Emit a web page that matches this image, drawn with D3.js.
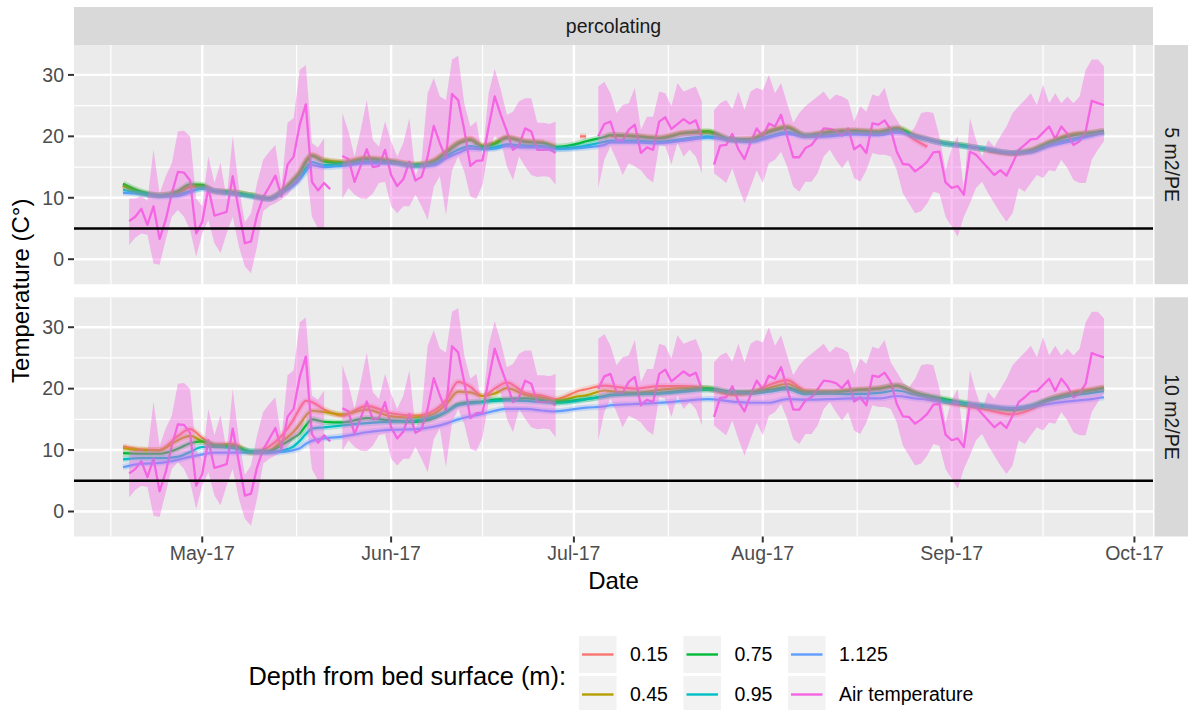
<!DOCTYPE html>
<html><head><meta charset="utf-8">
<script src="https://cdn.jsdelivr.net/npm/d3@7"></script>
<style>
body{margin:0;background:#fff;}
text{font-family:"Liberation Sans",Arial,Helvetica,sans-serif;}
</style>
</head><body>
<svg id="c" width="1188" height="710"></svg>
<script>
// ---------------- DATA ----------------
const startDate = "2017-04-18";           // day index 0
const facetLabels = ["5 m2/PE", "10 m2/PE"];
const stripTop = "percolating";
const depthLevels = ["0.15", "0.45", "0.75", "0.95", "1.125"];
const legendLabels = ["0.15", "0.45", "0.75", "0.95", "1.125", "Air temperature"];
const yTicks = [0, 10, 20, 30];
const yMinor = [5, 15, 25];
const threshold = 5;

// daily air temperature (index = days since startDate)
const airMean = [null,
 6.2,6.9,8.2,5.6,8.6,3.3,6.4,10.7,14.2,14.1,
 12.8,4.2,6.1,11.6,7.1,7.4,7.7,13.5,8.0,2.6,
 2.9,7.2,10.1,11.8,13.6,10.2,15.4,16.7,21.9,25.2,
 12.6,11.2,12.4,11.4,null,16.8,16.3,12.6,15.2,17.9,
 15.0,15.2,17.8,13.7,11.9,13.0,15.9,12.8,13.4,16.7,
 21.7,18.9,16.4,26.9,25.9,21.1,15.2,16.0,16.1,21.5,
 26.5,23.5,20.8,17.8,18.6,21.3,20.8,17.8,17.8,17.9,
 17.3,null,null,null,null,null,null,20.0,22.0,22.4,
 19.4,19.3,21.1,21.9,17.3,18.2,17.8,22.4,23.1,21.2,
 22.0,22.8,22.1,22.6,19.9,null,15.4,18.5,18.6,20.4,
 17.9,16.3,19.0,21.3,19.9,22.1,21.6,23.5,20.0,16.6,
 16.6,18.1,18.6,19.9,21.3,21.2,20.9,20.1,21.3,17.9,
 18.6,17.3,22.1,21.9,22.6,21.1,17.5,15.5,15.4,14.3,
 15.0,15.9,17.4,17.5,12.5,11.6,11.9,10.5,17.5,17.0,
 15.9,14.8,13.7,14.5,13.6,15.6,17.8,18.6,19.5,19.6,
 20.6,21.6,19.6,21.6,20.4,18.6,19.2,20.8,25.8,25.4,25.1];
const airMin = [null,
 2.3,3.5,4.2,4.0,-0.7,-0.9,3.1,6.9,8.0,6.9,
 4.8,0.4,4.2,6.4,2.6,1.0,4.2,6.9,2.1,-1.2,
 -2.3,2.1,7.8,8.6,9.1,9.7,10.5,11.8,12.5,15.6,
 6.9,5.0,5.0,null,null,9.9,11.6,10.5,9.9,9.8,
 10.7,12.4,12.6,8.6,7.5,8.6,8.6,10.5,8.6,6.4,
 11.8,13.5,7.2,14.5,16.7,14.3,10.2,9.8,12.1,17.8,
 20.0,19.2,15.1,12.9,16.7,15.1,13.7,13.4,13.5,13.4,
 12.1,null,null,null,null,null,null,11.6,16.2,18.4,
 16.2,13.7,15.6,15.1,14.5,13.2,12.5,18.6,18.4,15.4,
 18.9,16.7,17.8,16.7,14.0,null,14.0,13.2,12.4,14.8,
 11.8,9.1,11.8,14.5,12.4,15.6,16.2,17.5,15.1,11.8,
 11.0,12.6,12.6,14.0,16.7,17.8,16.2,14.8,16.2,13.2,
 12.6,14.5,17.3,17.0,17.0,16.7,14.5,10.7,9.1,7.5,
 7.8,9.1,11.0,10.7,6.9,5.3,3.7,6.9,9.1,11.6,
 12.6,10.7,9.1,7.5,6.1,7.5,11.6,11.0,12.4,13.7,
 13.2,14.5,14.3,16.2,14.8,12.9,12.4,12.4,16.2,17.8,19.2];
const airMax = [null,
 9.9,9.9,10.3,9.5,17.9,10.7,13.5,15.6,20.8,20.9,
 20.0,9.9,8.6,16.7,12.4,15.7,9.9,20.0,11.8,6.0,
 7.5,12.4,16.2,17.5,18.6,11.8,22.2,23.0,30.8,31.6,
 18.9,18.2,19.7,null,null,23.8,20.8,16.7,21.0,25.9,
 19.4,18.3,22.4,19.2,16.7,18.9,23.0,13.5,16.2,27.0,
 29.5,26.5,25.9,32.5,33.1,25.4,21.6,22.4,16.7,27.0,
 31.0,27.6,23.5,24.0,25.7,26.2,26.2,22.2,22.2,22.0,
 22.4,null,null,null,null,null,null,28.1,28.9,27.0,
 23.8,25.1,25.4,27.9,21.1,23.2,23.2,27.3,27.0,24.9,
 28.7,27.3,27.7,28.1,25.7,null,24.3,25.4,25.9,24.4,
 27.3,24.3,27.3,27.9,27.5,30.0,27.0,28.7,25.4,22.2,
 23.8,24.9,25.7,26.5,27.3,25.9,26.8,26.5,25.9,22.4,
 24.9,24.0,26.8,26.5,27.9,24.3,22.7,21.1,20.2,21.6,
 23.8,24.0,23.8,20.0,14.5,18.1,20.0,11.3,23.0,19.4,
 16.7,19.4,18.3,20.0,21.6,23.8,24.9,25.9,27.0,25.1,
 28.4,25.4,27.0,25.4,26.5,25.4,26.5,30.8,32.5,32.5,31.4];

// bed temperature sample days (days since startDate)
const depthDays = [0,3,6,9,11,13,15,18,21,24, 26,28,29,30,31,33,36,40,44,48,
 51,53,55,57,59,61,63,66,69,71, 75,76,79,80,84,88,92,96,100,103,
 106,109,112,116,120,124,127,130,132,134, 138,142,146,149,152,156,159,161];

// 5 m2/PE
const p5_015 = [11.9,10.8,10.4,10.8,11.7,11.8,11.1,10.9,10.4,9.9, 10.9,12.8,14.0,15.8,16.9,16.1,15.8,16.4,16.0,15.4,
 16.0,17.4,18.9,19.6,18.5,18.9,19.8,19.2,19.0,null, 20.0,20.0,null,20.1,20.0,19.7,20.5,20.6,19.4,19.5,
 20.7,21.4,20.1,20.6,20.9,20.7,21.2,19.4,18.3,null, null,17.6,17.1,17.6,18.9,20.2,20.5,20.8];
const p5_045 = [12.0,10.8,10.4,10.9,11.9,11.9,11.1,10.9,10.4,9.9, 11.0,13.0,14.2,16.0,17.0,16.1,15.8,16.5,16.0,15.4,
 16.1,17.5,19.0,19.6,18.4,18.9,19.9,19.2,19.0,18.4, null,null,19.8,20.2,20.1,19.8,20.6,20.8,19.5,19.6,
 20.9,21.6,20.2,20.8,21.0,20.8,21.4,20.2,19.6,19.1, 18.5,17.8,17.3,17.8,19.1,20.4,20.6,20.9];
const p5_075 = [12.3,11.0,10.4,11.1,12.2,12.1,11.1,10.9,10.4,9.9, 11.0,12.9,14.0,15.8,16.8,15.9,15.6,16.3,15.9,15.3,
 15.9,17.3,18.8,19.4,18.3,18.8,19.7,19.1,18.9,18.3, 18.9,19.2,19.9,20.2,20.0,19.7,20.5,20.8,19.5,19.5,
 20.7,21.4,20.2,20.7,20.9,20.7,21.3,20.0,19.5,19.0, 18.5,17.8,17.3,17.7,19.0,20.2,20.6,20.9];
const p5_095 = [11.3,10.7,10.3,10.5,11.1,11.5,11.1,10.7,10.3,9.8, 10.8,12.2,13.3,14.8,15.8,15.3,15.4,15.9,15.7,15.2,
 15.5,16.7,17.8,18.4,18.1,18.2,18.7,18.5,18.4,18.0, 18.3,18.5,19.1,19.3,19.3,19.1,19.6,20.0,19.4,19.2,
 20.0,20.7,20.0,20.2,20.5,20.4,20.9,20.0,19.5,19.0, 18.4,17.9,17.3,17.5,18.6,19.6,20.2,20.6];
const p5_1125 = [10.8,10.6,10.2,10.3,10.9,11.6,11.1,10.6,10.2,9.8, 10.8,12.0,13.0,14.3,15.3,15.0,15.2,15.6,15.6,15.1,
 15.3,16.4,17.3,18.0,17.9,18.0,18.4,18.2,18.2,17.9, 18.1,18.2,18.6,19.0,19.0,18.9,19.3,19.8,19.3,19.1,
 19.8,20.4,19.9,20.0,20.3,20.2,20.6,20.0,19.5,19.0, 18.4,17.9,17.3,17.4,18.4,19.3,20.1,20.5];

// 10 m2/PE
const p10_015 = [10.6,10.1,10.0,12.3,13.4,12.0,10.9,11.0,9.6,10.6, 12.3,15.0,16.8,18.0,17.8,16.6,15.6,17.2,16.0,15.6,
 16.4,18.1,21.1,20.3,18.8,20.0,21.0,19.3,18.8,18.3, 19.7,19.9,20.5,20.4,20.0,20.4,20.4,20.0,19.0,19.3,
 20.6,21.4,19.7,19.5,19.8,20.0,20.5,19.2,18.5,17.9, 17.2,16.5,15.8,16.6,18.2,19.5,19.9,20.2];
const p10_045 = [10.3,10.0,10.0,11.6,12.3,11.4,10.7,10.8,9.6,9.9, 11.4,13.0,14.2,15.6,16.4,16.2,15.8,16.6,15.5,15.3,
 15.9,17.4,19.5,19.4,18.8,19.2,20.1,19.0,18.5,18.0, 18.8,18.9,19.7,19.6,19.3,19.8,20.1,20.0,19.2,19.4,
 20.1,20.8,19.6,19.5,19.8,20.1,20.5,19.4,18.8,18.3, 17.6,17.0,16.5,17.0,18.3,19.3,19.8,20.2];
const p10_075 = [9.5,9.4,9.4,10.2,11.1,11.4,10.8,10.6,9.8,9.8, 10.8,12.0,12.7,14.0,15.0,14.6,14.5,15.2,14.8,14.6,
 15.2,16.2,17.5,17.8,17.9,18.2,18.3,18.4,18.1,17.8, 18.2,18.3,18.8,19.0,19.2,19.3,19.7,20.1,19.5,19.5,
 19.8,20.2,19.4,19.4,19.7,20.0,20.5,19.4,18.9,18.5, 17.7,17.1,16.6,17.2,18.3,19.2,19.7,20.1];
const p10_095 = [8.5,8.7,8.7,8.9,9.7,10.5,10.5,10.3,9.8,9.6, 9.9,10.6,11.5,12.6,13.5,13.7,14.0,14.4,14.6,14.8,
 15.4,16.2,17.3,17.6,17.8,18.0,18.1,18.0,17.8,17.7, 18.1,18.3,18.7,18.9,19.1,19.2,19.5,19.8,19.4,19.2,
 19.5,19.9,19.1,19.2,19.1,19.3,19.7,19.0,18.6,18.2, 17.5,17.0,16.8,17.2,18.1,18.9,19.3,19.6];
const p10_1125 = [7.2,7.8,7.9,8.4,8.9,9.3,9.6,9.6,9.6,9.6, 9.7,10.0,10.3,11.0,11.5,11.9,12.2,12.9,13.3,13.4,
 13.8,14.3,15.0,15.5,15.9,16.4,16.7,16.7,16.4,16.3, 16.8,16.9,17.1,17.3,17.5,17.7,18.0,18.3,17.9,17.7,
 17.7,18.3,18.2,18.3,18.4,18.4,18.8,18.4,18.2,17.9, 17.6,17.2,16.8,17.0,17.5,18.0,18.3,18.6];

// ---------------- STYLE / LAYOUT ----------------
const colors = ["#F8766D","#B79F00","#00BA38","#00BFC4","#619CFF","#F564E3"];
const PL = 74, PR = 1153;
const panelDefs = [
  {label: facetLabels[0], top: 45, bottom: 284.2, depth: [p5_015,p5_045,p5_075,p5_095,p5_1125]},
  {label: facetLabels[1], top: 297.3, bottom: 536.5, depth: [p10_015,p10_045,p10_075,p10_095,p10_1125]}
];

const svg = d3.select("#c");
const t0 = new Date(startDate + "T00:00:00Z");
const dayDate = d => new Date(t0.getTime() + d * 864e5);
const nDays = airMean.length - 1;
const xpad = nDays * 0.05;
const x = d3.scaleUtc().domain([dayDate(-xpad), dayDate(nDays + xpad)]).range([PL, PR]);

const allVals = [].concat(airMin, airMax, ...panelDefs.flatMap(p => p.depth)).filter(v => v != null);
const ymin = d3.min(allVals), ymax = d3.max(allVals);
const ypad = (ymax - ymin) * 0.05;
const yDom = [ymin - ypad, ymax + ypad];

const majorX = d3.utcMonth.range(dayDate(-xpad), dayDate(nDays + xpad));
const monthsAll = d3.utcMonth.range(d3.utcMonth.floor(dayDate(-xpad)), d3.utcMonth.offset(d3.utcMonth.ceil(dayDate(nDays + xpad)), 1));
const minorX = [];
for (let i = 0; i < monthsAll.length - 1; i++) {
  const m = new Date((monthsAll[i].getTime() + monthsAll[i+1].getTime()) / 2);
  if (m >= x.domain()[0] && m <= x.domain()[1]) minorX.push(m);
}

panelDefs.forEach((p, pi) => {
  const y = d3.scaleLinear().domain(yDom).range([p.bottom, p.top]);
  const g = svg.append("g");
  g.append("rect").attr("x", PL).attr("y", p.top).attr("width", PR - PL).attr("height", p.bottom - p.top).attr("fill", "#EBEBEB");
  g.selectAll(null).data(yMinor).join("line")
    .attr("x1", PL).attr("x2", PR).attr("y1", d => y(d)).attr("y2", d => y(d))
    .attr("stroke", "#fff").attr("stroke-width", 1.2);
  g.selectAll(null).data(minorX).join("line")
    .attr("y1", p.top).attr("y2", p.bottom).attr("x1", d => x(d)).attr("x2", d => x(d))
    .attr("stroke", "#fff").attr("stroke-width", 1.2);
  g.selectAll(null).data(yTicks).join("line")
    .attr("x1", PL).attr("x2", PR).attr("y1", d => y(d)).attr("y2", d => y(d))
    .attr("stroke", "#fff").attr("stroke-width", 2.4);
  g.selectAll(null).data(majorX).join("line")
    .attr("y1", p.top).attr("y2", p.bottom).attr("x1", d => x(d)).attr("x2", d => x(d))
    .attr("stroke", "#fff").attr("stroke-width", 2.4);

  const clipId = "clip" + pi;
  svg.append("clipPath").attr("id", clipId).append("rect")
    .attr("x", PL).attr("y", p.top).attr("width", PR - PL).attr("height", p.bottom - p.top);
  const dg = svg.append("g").attr("clip-path", `url(#${clipId})`);

  const depthLine = d3.line().defined(d => d.v != null)
    .x(d => x(dayDate(d.d))).y(d => y(d.v)).curve(d3.curveMonotoneX);
  const depthData = p.depth.map(arr => depthDays.map((d, i) => ({d, v: arr[i] == null ? null : arr[i]})));
  const airData = airMean.map((v, i) => ({d: i, v, lo: airMin[i], hi: airMax[i]}));

  // line layer
  depthData.forEach((dd, k) => {
    dg.append("path").datum(dd).attr("d", depthLine)
      .attr("fill", "none").attr("stroke", colors[k]).attr("stroke-width", 2.2);
  });
  const airLine = d3.line().defined(d => d.v != null).x(d => x(dayDate(d.d))).y(d => y(d.v));
  dg.append("path").datum(airData).attr("d", airLine)
    .attr("fill", "none").attr("stroke", colors[5]).attr("stroke-width", 2.3).attr("stroke-linejoin", "round");

  // ribbon layer
  depthData.forEach((dd, k) => {
    dg.append("path").datum(dd).attr("d", depthLine)
      .attr("fill", "none").attr("stroke", colors[k]).attr("stroke-width", 6)
      .attr("stroke-opacity", 0.25).attr("stroke-linecap", "butt");
  });
  const airArea = d3.area().defined(d => d.lo != null && d.hi != null)
    .x(d => x(dayDate(d.d))).y0(d => y(d.lo)).y1(d => y(d.hi));
  dg.append("path").datum(airData).attr("d", airArea)
    .attr("fill", colors[5]).attr("fill-opacity", 0.4);

  dg.append("line").attr("x1", PL).attr("x2", PR).attr("y1", y(threshold)).attr("y2", y(threshold))
    .attr("stroke", "#000").attr("stroke-width", 2.4);

  const ya = svg.append("g");
  ya.selectAll(null).data(yTicks).join("line")
    .attr("x1", PL - 6).attr("x2", PL).attr("y1", d => y(d)).attr("y2", d => y(d))
    .attr("stroke", "#333333").attr("stroke-width", 2);
  ya.selectAll(null).data(yTicks).join("text")
    .attr("x", PL - 10).attr("y", d => y(d)).attr("dy", "0.35em")
    .attr("text-anchor", "end").attr("fill", "#4D4D4D").attr("font-size", 19.5)
    .text(d => d);

  svg.append("rect").attr("x", PR + 1.5).attr("y", p.top).attr("width", 1188 - PR).attr("height", p.bottom - p.top).attr("fill", "#D9D9D9");
  const cy = (p.top + p.bottom) / 2, cx = PR + 1.5 + (1188 - PR - 1.5) / 2 + 1;
  svg.append("text").attr("transform", `translate(${cx},${cy}) rotate(90)`)
    .attr("text-anchor", "middle").attr("dy", "0.35em")
    .attr("fill", "#1A1A1A").attr("font-size", 19.5).text(p.label);

  if (pi === panelDefs.length - 1) {
    const xa = svg.append("g");
    xa.selectAll(null).data(majorX).join("line")
      .attr("x1", d => x(d)).attr("x2", d => x(d)).attr("y1", p.bottom).attr("y2", p.bottom + 6)
      .attr("stroke", "#333333").attr("stroke-width", 2);
    const fmt = d3.utcFormat("%b-%y");
    xa.selectAll(null).data(majorX).join("text")
      .attr("x", d => x(d)).attr("y", p.bottom + 17).attr("dy", "0.35em")
      .attr("text-anchor", "middle").attr("fill", "#4D4D4D").attr("font-size", 19.5)
      .text(d => fmt(d));
  }
});

svg.append("rect").attr("x", PL).attr("y", 7).attr("width", PR - PL).attr("height", 38).attr("fill", "#D9D9D9");
svg.append("text").attr("x", (PL + PR) / 2).attr("y", 26).attr("dy", "0.35em")
  .attr("text-anchor", "middle").attr("fill", "#1A1A1A").attr("font-size", 19.5).text(stripTop);

svg.append("text").attr("x", (PL + PR) / 2).attr("y", 581).attr("dy", "0.35em")
  .attr("text-anchor", "middle").attr("fill", "#000").attr("font-size", 24).text("Date");
svg.append("text").attr("transform", `translate(21,${(45 + 536.5) / 2}) rotate(-90)`)
  .attr("text-anchor", "middle").attr("dy", "0.35em").attr("fill", "#000").attr("font-size", 24)
  .text("Temperature (C°)");

const lg = svg.append("g");
lg.append("text").attr("x", 566).attr("y", 676).attr("dy", "0.35em")
  .attr("text-anchor", "end").attr("fill", "#000").attr("font-size", 25.4).text("Depth from bed surface (m):");
const keyX = [579, 683.5, 788], keyY = [636, 676], keyW = 37.5, keyH = 37;
legendLabels.forEach((lab, i) => {
  const col = Math.floor(i / 2), row = i % 2;
  const kx = keyX[col], ky = keyY[row];
  lg.append("rect").attr("x", kx).attr("y", ky).attr("width", keyW).attr("height", keyH).attr("fill", "#F2F2F2");
  lg.append("line").attr("x1", kx + 3).attr("x2", kx + keyW - 3)
    .attr("y1", ky + keyH / 2).attr("y2", ky + keyH / 2)
    .attr("stroke", colors[i]).attr("stroke-width", 2.4);
  lg.append("text").attr("x", kx + 51).attr("y", ky + keyH / 2).attr("dy", "0.35em")
    .attr("fill", "#000").attr("font-size", 19.5).text(lab);
});
</script>
</body></html>
